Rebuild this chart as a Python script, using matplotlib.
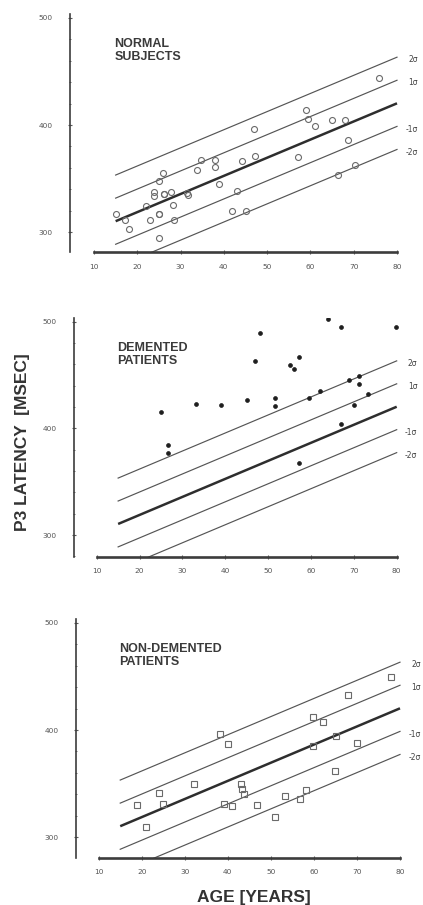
import matplotlib
matplotlib.use("Agg")
import matplotlib.pyplot as plt
import numpy as np
from matplotlib.ticker import MultipleLocator, FixedLocator

# ---------------- data ----------------
normal_age = [15.0, 17.2, 18.1, 21.9, 22.9, 23.9, 23.9, 25.1, 25.1, 25.1, 25.1, 25.9,
              26.2, 26.2, 27.9, 28.2, 28.5, 31.5, 31.8, 33.9, 34.7, 37.9, 37.9, 38.9,
              41.8, 43.0, 44.1, 45.0, 47.0, 47.2, 57.2, 58.9, 59.5, 61.0, 64.9, 66.4,
              67.9, 68.7, 70.3, 75.9]
normal_p3 = [316.7, 311.0, 303.4, 324.5, 311.2, 337.5, 333.5, 317.4, 317.4, 295.0, 347.7, 355.5,
             336.0, 336.0, 337.5, 325.8, 311.2, 336.6, 334.4, 357.7, 367.0, 367.0, 360.8, 345.3,
             319.8, 338.4, 366.3, 319.8, 396.5, 370.7, 370.0, 414.4, 405.8, 399.3, 404.2, 353.0,
             404.2, 385.6, 362.3, 443.9]

demented_age = [24.9, 26.7, 26.7, 33.1, 39.0, 45.0, 47.0, 48.2, 51.7, 51.7, 55.2, 56.0,
                57.2, 57.2, 59.5, 62.1, 63.9, 66.9, 66.9, 68.9, 70.0, 71.1, 71.1, 73.3, 79.8]
demented_p3 = [415.5, 384.5, 377.3, 422.4, 422.0, 426.4, 462.7, 489.4, 428.3, 420.8, 459.3, 455.3,
               466.8, 367.7, 428.6, 434.5, 502.2, 495.3, 404.3, 445.0, 421.7, 448.8, 441.3, 432.3, 494.7]

nondem_age = [18.9, 20.9, 24.0, 25.0, 32.2, 38.1, 40.0, 39.0, 40.9, 43.0, 43.3, 43.8,
              46.8, 51.0, 53.2, 56.7, 58.2, 59.9, 62.0, 59.9, 65.2, 65.0, 67.9, 70.0, 78.0]
nondem_p3 = [329.8, 310.0, 341.4, 330.8, 349.9, 396.4, 387.0, 331.4, 329.5, 349.3, 344.6, 339.9,
             330.1, 318.5, 338.6, 335.8, 344.0, 412.1, 407.4, 384.8, 394.3, 361.9, 432.5, 387.6, 449.8]

reg_intercept = 285.0
reg_slope = 1.69
sigma = 21.5
sigma_mult = [2, 1, -1, -2]
sigma_labels = ["2\u03c3", "1\u03c3", "-1\u03c3", "-2\u03c3"]
age_range = [15, 80]
panel_titles = ["NORMAL\nSUBJECTS", "DEMENTED\nPATIENTS", "NON-DEMENTED\nPATIENTS"]
yticks = [300, 400, 500]
xticks = [10, 20, 30, 40, 50, 60, 70, 80]

# ---------------- layout ----------------
W, H = 423, 905
fig = plt.figure(figsize=(W / 100, H / 100), dpi=100)
fig.patch.set_facecolor("white")

# pixel geometry per panel: spine x, px of age10, px of age80, py of 300, py of 400, py of x-axis
geo = [(70, 94, 397, 232.3, 125.0, 252.3),
       (74, 96.7, 396.7, 535.0, 428.3, 556.7),
       (76, 98.7, 400.0, 837.3, 730.0, 858.0)]
YTOP = 503
XRIGHT = 81

LINE_C = "#3c3c3c"
GRAY = "#5a5a5a"
TXT = "#3a3a3a"

datasets = [(normal_age, normal_p3, dict(marker="o", ms=4.3, mfc="none", mec="#6a6a6a", mew=0.8)),
            (demented_age, demented_p3, dict(marker="o", ms=2.8, mfc="#1e1e1e", mec="#1e1e1e", mew=0.5)),
            (nondem_age, nondem_p3, dict(marker="s", ms=4.3, mfc="none", mec="#6a6a6a", mew=0.8))]

for i, (sx, p10, p80, y300, y400, yb) in enumerate(geo):
    kx = (p80 - p10) / 70.0
    ky = (y300 - y400) / 100.0
    x0 = 10 - (p10 - sx) / kx
    ybot = 300 - (yb - y300) / ky
    left = sx
    right = p80 + (XRIGHT - 80) * kx
    top = y400 - (YTOP - 400) * ky
    ax = fig.add_axes([left / W, 1 - yb / H, (right - left) / W, (yb - top) / H])
    ax.set_xlim(x0, XRIGHT)
    ax.set_ylim(ybot, YTOP)
    ax.patch.set_alpha(0)

    for s in ["top", "right"]:
        ax.spines[s].set_visible(False)
    ax.spines["left"].set_linewidth(1.2)
    ax.spines["left"].set_color(LINE_C)
    ax.spines["bottom"].set_linewidth(1.9)
    ax.spines["bottom"].set_color(LINE_C)
    ax.spines["bottom"].set_bounds(10, 80)

    ax.yaxis.set_major_locator(FixedLocator(yticks))
    ax.yaxis.set_minor_locator(MultipleLocator(20))
    ax.xaxis.set_major_locator(FixedLocator(xticks))
    ax.tick_params(axis="y", which="major", direction="inout", length=3, width=0.8,
                   colors=GRAY, labelsize=5.3, pad=11, labelcolor="#555555")
    ax.tick_params(axis="y", which="minor", direction="inout", length=2, width=0.6, colors=GRAY)
    ax.tick_params(axis="x", which="major", direction="inout", length=2.5, width=0.8,
                   colors=GRAY, labelsize=5.3, pad=7, labelcolor="#555555")

    ages = np.array(age_range, dtype=float)
    base = reg_intercept + reg_slope * ages
    ax.plot(ages, base, color="#2e2e2e", lw=1.8, solid_capstyle="butt", zorder=2)
    for m, lab in zip(sigma_mult, sigma_labels):
        ax.plot(ages, base + m * sigma, color="#555555", lw=0.85, zorder=2)
        yend = reg_intercept + reg_slope * 80 + m * sigma
        ax.text(84.8, yend - 2.5, lab, ha="right", va="center", fontsize=5.5,
                color="#444444", clip_on=False)

    a, v, style = datasets[i]
    ax.plot(a, v, ls="none", zorder=3, **style)

    ax.text(14.7, 481, panel_titles[i], ha="left", va="top", fontsize=9,
            family="Liberation Sans", fontweight="bold", color=TXT, linespacing=1.15)

fig.text(22.5 / W, 1 - 442 / H, "P3 LATENCY  [MSEC]", rotation=90, ha="center", va="center",
         fontsize=12.5, family="Liberation Sans", fontweight="bold", color="#333333")
fig.text(254 / W, 1 - 897 / H, "AGE [YEARS]", ha="center", va="center",
         fontsize=12.5, family="Liberation Sans", fontweight="bold", color="#333333")

fig.savefig("out.png", dpi=100, facecolor="white")
